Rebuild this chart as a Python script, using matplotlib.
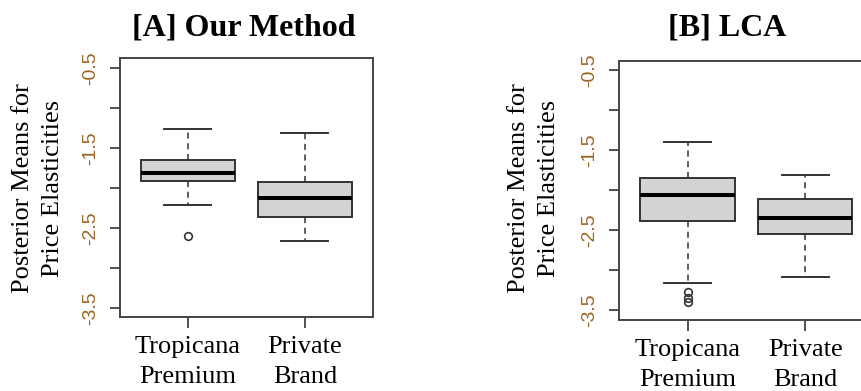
import matplotlib
matplotlib.use("Agg")
import matplotlib.pyplot as plt

# ---- data ----
categories = ["Tropicana\nPremium", "Private\nBrand"]
titles = ["[A] Our Method", "[B] LCA"]

# [A] Our Method: lower whisker, Q1, median, Q3, upper whisker
a_whislo = [-2.21, -2.66]
a_q1 = [-1.92, -2.37]
a_med = [-1.82, -2.13]
a_q3 = [-1.65, -1.93]
a_whishi = [-1.27, -1.32]
a_fliers = [[-2.60], []]

# [B] LCA
b_whislo = [-3.16, -3.08]
b_q1 = [-2.38, -2.55]
b_med = [-2.06, -2.35]
b_q3 = [-1.84, -2.11]
b_whishi = [-1.39, -1.81]
b_fliers = [[-3.27, -3.35, -3.39], []]

ytick_values = [-0.5, -1.0, -1.5, -2.0, -2.5, -3.0, -3.5]
ytick_labels = ["-0.5", "", "-1.5", "", "-2.5", "", "-3.5"]
ylabel = "Posterior Means for\nPrice Elasticities"

W, H = 862, 391
fig = plt.figure(figsize=(W / 100, H / 100), dpi=100)

serif = ["Liberation Serif", "DejaVu Serif"]
sans = ["Liberation Sans", "DejaVu Sans"]
tick_color = "#9A6420"
line_col = "#333333"


def make_stats(whislo, q1, med, q3, whishi, fliers):
    out = []
    for i in range(len(med)):
        out.append(dict(whislo=whislo[i], q1=q1[i], med=med[i], q3=q3[i],
                        whishi=whishi[i], fliers=fliers[i]))
    return out


def panel(rect, stats, title, title_x, ylab_x, hide_right=False):
    ax = fig.add_axes(rect)
    ax.bxp(stats, positions=[1, 2], widths=0.8, capwidths=0.4,
           patch_artist=True, showfliers=True,
           boxprops=dict(facecolor="#D3D3D3", edgecolor=line_col, linewidth=1.4),
           medianprops=dict(color="black", linewidth=2.9, solid_capstyle="butt"),
           whiskerprops=dict(color=line_col, linewidth=1.1, linestyle=(0, (4, 3))),
           capprops=dict(color=line_col, linewidth=1.4),
           flierprops=dict(marker="o", markerfacecolor="none",
                           markeredgecolor=line_col, markersize=5.5,
                           markeredgewidth=1.2))
    ax.set_xlim(0.42, 2.58)
    ax.set_ylim(-3.62, -0.38)
    ax.set_yticks(ytick_values)
    ax.set_yticklabels(ytick_labels, rotation=90, va="center",
                       fontfamily=sans, fontsize=14, color=tick_color)
    ax.set_xticks([1, 2])
    ax.set_xticklabels(categories, fontfamily=serif, fontsize=19,
                       linespacing=1.45)
    ax.tick_params(axis="y", length=7.2, width=1.2, color=line_col, pad=8)
    ax.tick_params(axis="x", length=7.8, width=1.2, color=line_col, pad=6)
    for s in ax.spines.values():
        s.set_color("#444444")
        s.set_linewidth(1.4)
    if hide_right:
        ax.spines["right"].set_visible(False)
    fig.text(title_x / W, 1 - 35 / H, title, ha="center", va="baseline",
             fontfamily=serif, fontweight="bold", fontsize=23)
    fig.text(ylab_x / W, 1 - 188 / H, ylabel, ha="center", va="center",
             rotation=90, fontfamily=serif, fontsize=19, linespacing=1.42,
             multialignment="center")
    return ax


axA = panel([120 / W, (H - 317.3) / H, 252.7 / W, 259 / H],
            make_stats(a_whislo, a_q1, a_med, a_q3, a_whishi, a_fliers),
            titles[0], 244, 38)
axB = panel([619.3 / W, (H - 320) / H, 254 / W, 259.3 / H],
            make_stats(b_whislo, b_q1, b_med, b_q3, b_whishi, b_fliers),
            titles[1], 727, 534, hide_right=True)

fig.savefig("out.png", dpi=100)
